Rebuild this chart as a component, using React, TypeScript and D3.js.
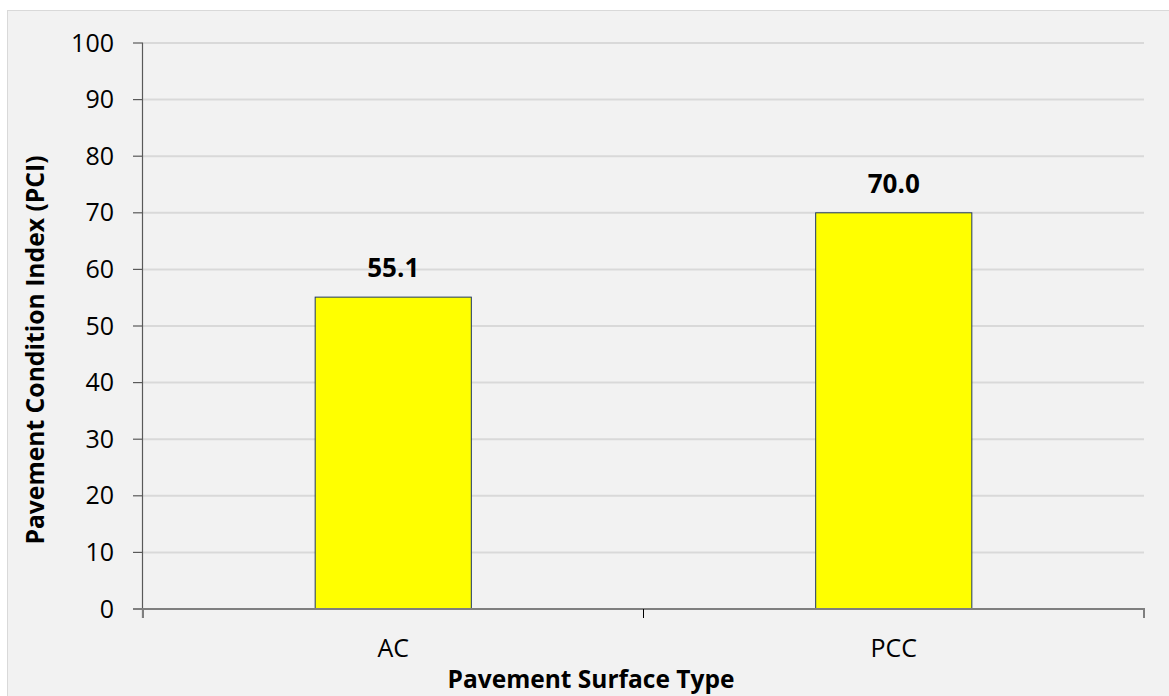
import React from "react";
import * as d3 from "d3";

const categories = ["AC", "PCC"];
const pciValues = [55.1, 70.0];
const yTicks = [0, 10, 20, 30, 40, 50, 60, 70, 80, 90, 100];

const W = 1169;
const H = 696;
const plot = { left: 143, right: 1144, top: 43, bottom: 609 };
const FONT = "'Open Sans', 'Liberation Sans', sans-serif";

export default function App() {
  const x = d3.scaleBand<string>().domain(categories).range([plot.left, plot.right]).padding(0);
  const y = d3.scaleLinear().domain([0, 100]).range([plot.bottom, plot.top]);
  const barW = x.bandwidth() * 0.312;
  const edges = [plot.left, ...categories.map((c) => (x(c) as number) + x.bandwidth())];

  return (
    <svg width={W} height={H} style={{ position: "absolute", left: 0, top: 0, display: "block" }}>
      <rect x={0} y={0} width={W} height={H} fill="#ffffff" />
      <rect x={7.5} y={10.5} width={W} height={H} fill="#f2f2f2" stroke="#d9d9d9" strokeWidth={1} />

      {/* gridlines */}
      {yTicks.filter((t) => t > 0).map((t) => (
        <line key={t} x1={plot.left} x2={plot.right} y1={y(t)} y2={y(t)} stroke="#d9d9d9" strokeWidth={2} />
      ))}

      {/* bars */}
      {categories.map((c, i) => {
        const cx = (x(c) as number) + x.bandwidth() / 2;
        return (
          <g key={c}>
            <rect
              x={cx - barW / 2}
              y={y(pciValues[i])}
              width={barW}
              height={y(0) - y(pciValues[i])}
              fill="#ffff00"
              stroke="#1f3864"
              strokeWidth={1}
            />
            <text
              x={cx}
              y={y(pciValues[i]) - 20}
              textAnchor="middle"
              fontFamily={FONT}
              fontWeight="bold"
              fontSize={26}
              fill="#000"
            >
              {pciValues[i].toFixed(1)}
            </text>
            <text x={cx} y={657} textAnchor="middle" fontFamily={FONT} fontSize={25} fill="#000">
              {c}
            </text>
          </g>
        );
      })}

      {/* y axis */}
      <line x1={plot.left - 0.5} x2={plot.left - 0.5} y1={plot.top} y2={plot.bottom + 9} stroke="#595959" strokeWidth={1.2} />
      {yTicks.map((t) => (
        <g key={t}>
          <line x1={plot.left - 10} x2={plot.left} y1={y(t)} y2={y(t)} stroke="#595959" strokeWidth={1.2} />
          <text x={114} y={y(t) + 8.5} textAnchor="end" fontFamily={FONT} fontSize={25} fill="#000">
            {t}
          </text>
        </g>
      ))}

      {/* x axis */}
      <line x1={plot.left - 10} x2={plot.right + 1} y1={plot.bottom} y2={plot.bottom} stroke="#7f7f7f" strokeWidth={2} />
      {edges.map((e, i) => (
        <line key={i} x1={e} x2={e} y1={plot.bottom} y2={plot.bottom + 9} stroke={i === 1 ? "#000" : "#7f7f7f"} strokeWidth={i === 1 ? 1 : 2} />
      ))}

      {/* axis titles */}
      <text x={591} y={688} textAnchor="middle" fontFamily={FONT} fontWeight="bold" fontSize={24.5} fill="#000">
        Pavement Surface Type
      </text>
      <text
        transform={`translate(44, 350) rotate(-90)`}
        textAnchor="middle"
        fontFamily={FONT}
        fontWeight="bold"
        fontSize={24.7}
        fill="#000"
      >
        Pavement Condition Index (PCI)
      </text>
    </svg>
  );
}
